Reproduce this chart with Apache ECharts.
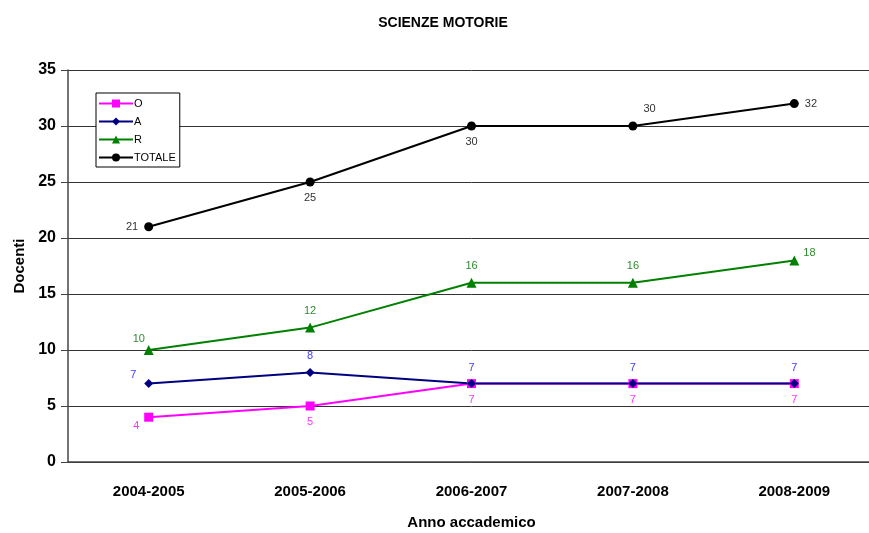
<!DOCTYPE html>
<html>
<head>
<meta charset="utf-8">
<script src="https://cdn.jsdelivr.net/npm/echarts@6/dist/echarts.min.js"></script>
<style>
  html, body { margin: 0; padding: 0; background: #fff; overflow: hidden; }
  #main { width: 876px; height: 533px; }
</style>
</head>
<body>
<div id="main"></div>
<script>
// dati
const anni = ["2004-2005", "2005-2006", "2006-2007", "2007-2008", "2008-2009"];
const valO = [4, 5, 7, 7, 7];
const valA = [7, 8, 7, 7, 7];
const valR = [10, 12, 16, 16, 18];
const valTot = [21, 25, 30, 30, 32];

const font = "Liberation Sans, Arial, sans-serif";

// posizione etichette per ogni punto
const withPos = (vals, pos) => vals.map((v, k) => ({ value: v, label: { position: pos[k] } }));

const mkSerie = (name, vals, color, labelColor, symbol, size, pos) => ({
  name: name,
  type: "line",
  data: withPos(vals, pos),
  symbol: symbol,
  symbolSize: size,
  lineStyle: { color: color, width: 2 },
  itemStyle: { color: color },
  label: {
    show: true,
    color: labelColor,
    fontSize: 11,
    fontFamily: font,
    distance: 6
  },
  animation: false
});

let myChart = echarts.init(document.getElementById("main"));
let option = {
  backgroundColor: "#fff",
  title: {
    text: "SCIENZE MOTORIE",
    left: 438,
    textAlign: "center",
    top: 11,
    textStyle: { fontFamily: font, fontSize: 14, fontWeight: "bold", color: "#000" }
  },
  grid: { left: 68, right: 1, top: 70, bottom: 71, outerBoundsMode: "none" },
  legend: {
    orient: "vertical",
    left: 96,
    top: 93,
    padding: [5, 4, 4, 2],
    itemGap: 7,
    itemWidth: 34,
    itemHeight: 10,
    borderColor: "#000",
    borderWidth: 1,
    backgroundColor: "#fff",
    textStyle: { fontFamily: font, fontSize: 11, color: "#000", padding: [0, 0, 0, -4] },
    data: ["O", "A", "R", "TOTALE"]
  },
  xAxis: {
    type: "category",
    data: anni,
    boundaryGap: true,
    name: "Anno accademico",
    nameLocation: "middle",
    nameGap: 53,
    nameTextStyle: { fontFamily: font, fontSize: 15, fontWeight: "bold", color: "#000" },
    axisLine: { lineStyle: { color: "#444", width: 1.5 } },
    axisTick: { show: false },
    axisLabel: { fontFamily: font, fontSize: 15, fontWeight: "bold", color: "#000", margin: 22 }
  },
  yAxis: {
    type: "value",
    min: 0,
    max: 35,
    interval: 5,
    name: "Docenti",
    nameLocation: "middle",
    nameGap: 39,
    nameTextStyle: { fontFamily: font, fontSize: 15, fontWeight: "bold", color: "#000" },
    axisLine: { show: true, lineStyle: { color: "#444", width: 1.5 } },
    axisTick: { show: true, length: 7, lineStyle: { color: "#444" } },
    axisLabel: { fontFamily: font, fontSize: 16, fontWeight: "bold", color: "#000", margin: 12 },
    splitLine: { show: true, lineStyle: { color: "#333", width: 1 } }
  },
  series: [
    mkSerie("O", valO, "#ff00ff", "#ff33ff", "rect", 9, [[-11, 8], "bottom", "bottom", "bottom", "bottom"]),
    mkSerie("A", valA, "#000080", "#4040ff", "diamond", 9, [[-14, -10], "top", "top", "top", "top"]),
    mkSerie("R", valR, "#008000", "#2e8b2e", "triangle", 10, [[-11, -12], "top", "top", "top", [14, -8]]),
    mkSerie("TOTALE", valTot, "#000000", "#333333", "circle", 9, ["left", "bottom", "bottom", [15, -18], "right"])
  ]
};
myChart.setOption(option);
</script>
</body>
</html>
